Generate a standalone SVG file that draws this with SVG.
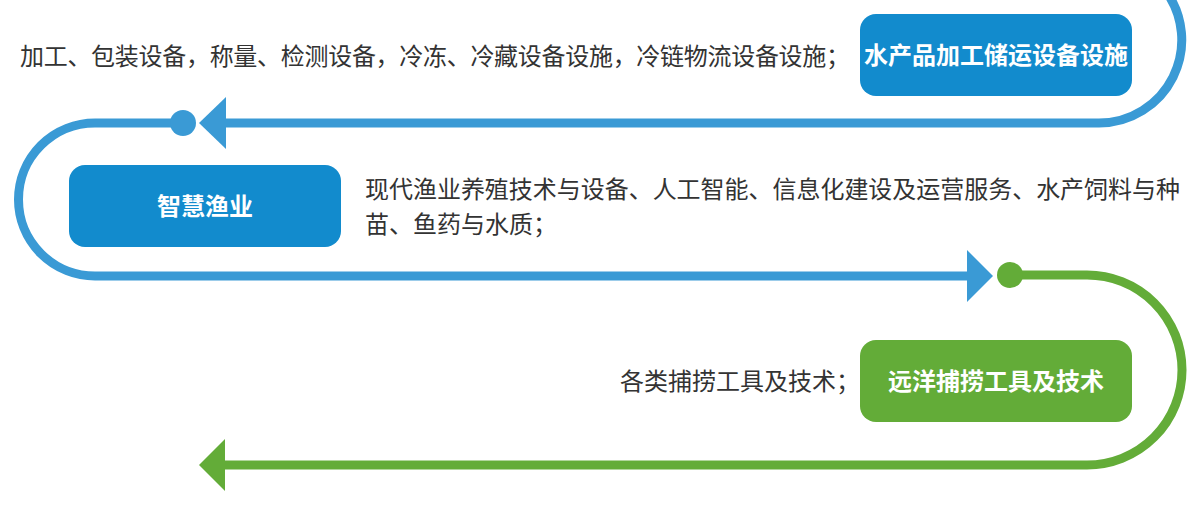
<svg xmlns="http://www.w3.org/2000/svg" width="1200" height="509" viewBox="0 0 1200 509">
<style>
.box-blue{fill:#128bcd}
.box-green{fill:#63ac38}
.lbl{font-family:"Noto Sans CJK SC","Noto Sans",sans-serif;font-size:24px;font-weight:bold;fill:#ffffff;text-anchor:middle}
.desc{font-family:"Noto Sans CJK SC","Noto Sans",sans-serif;font-size:24px;fill:#333333}
.ln-blue{fill:none;stroke:#3a9ad5;stroke-width:9}
.ln-green{fill:none;stroke:#63ac38;stroke-width:9}
</style>
<rect width="1200" height="509" fill="#ffffff"/>
<g id="connectors">
  <path class="ln-blue" d="M 220 123 H 1099 A 83 83 0 0 0 1165 -10"/>
  <polygon points="199,123 226,97 226,149" fill="#3a9ad5"/>
  <path class="ln-blue" d="M 183 123 H 95 A 76.5 76.5 0 0 0 95 276 H 972"/>
  <circle cx="183" cy="123" r="13" fill="#3a9ad5"/>
  <polygon points="993,276 967,250 967,302" fill="#3a9ad5"/>
  <path class="ln-green" d="M 1010 275 H 1087 A 95 95 0 0 1 1087 465 H 220"/>
  <circle cx="1010" cy="275" r="13" fill="#63ac38"/>
  <polygon points="199,465 225,439 225,491" fill="#63ac38"/>
</g>
<g id="node-processing">
  <rect class="box-blue" x="860" y="14" width="272" height="82" rx="16"/>
  <text class="lbl" x="996" y="64">水产品加工储运设备设施</text>
</g>
<text class="desc" x="20" y="65" textLength="830" lengthAdjust="spacing">加工、包装设备，称量、检测设备，冷冻、冷藏设备设施，冷链物流设备设施；</text>
<g id="node-smart">
  <rect class="box-blue" x="69" y="165" width="272" height="82" rx="16"/>
  <text class="lbl" x="205" y="215">智慧渔业</text>
</g>
<text class="desc" x="365" y="198" textLength="815" lengthAdjust="spacing">现代渔业养殖技术与设备、人工智能、信息化建设及运营服务、水产饲料与种</text>
<text class="desc" x="365" y="233">苗、鱼药与水质；</text>
<g id="node-fishing">
  <rect class="box-green" x="860" y="340" width="272" height="82" rx="16"/>
  <text class="lbl" x="996" y="390">远洋捕捞工具及技术</text>
</g>
<text class="desc" x="620" y="390">各类捕捞工具及技术；</text>
</svg>
